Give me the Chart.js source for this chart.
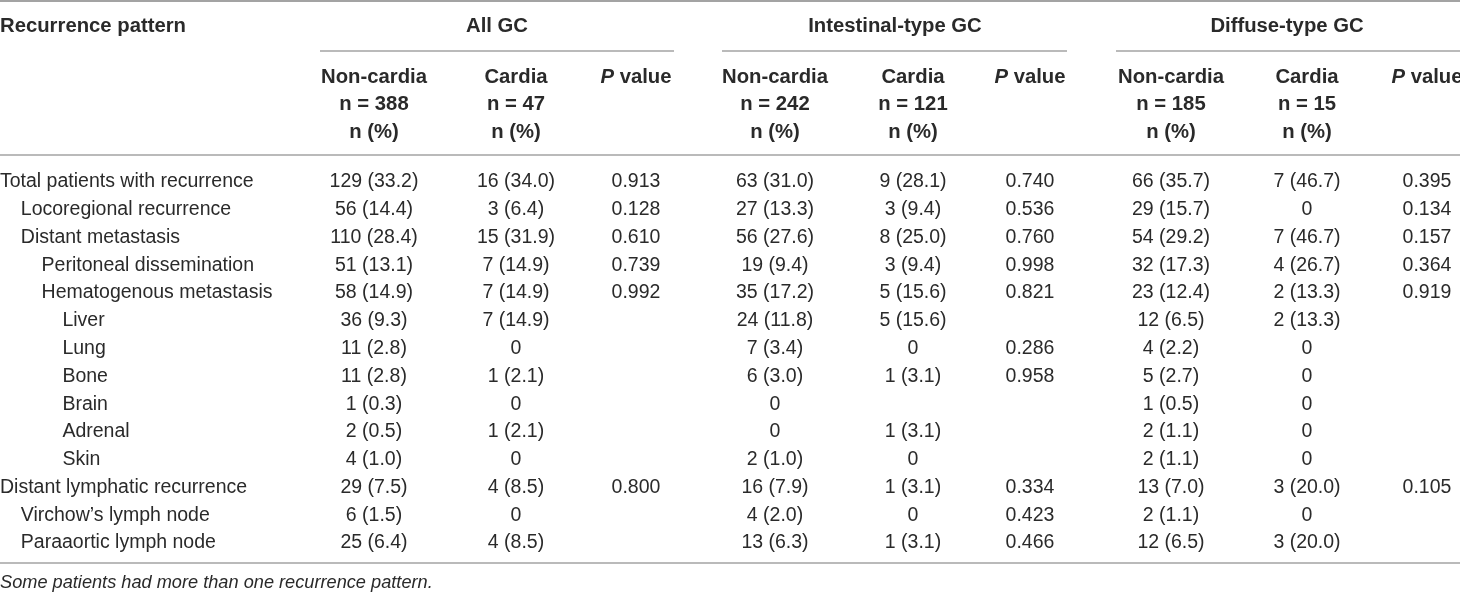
<!DOCTYPE html>
<html>
<head>
<meta charset="utf-8">
<script src="https://cdn.jsdelivr.net/npm/chart.js@4.4.1/dist/chart.umd.min.js"></script>
<style>
  html, body { margin: 0; padding: 0; background: #fff; }
  #wrap { width: 1460px; height: 593px; }
</style>
</head>
<body>
<div id="wrap"><canvas id="tbl"></canvas></div>
<script>
// Table content
const rowLabels = [
    'Total patients with recurrence', 'Locoregional recurrence', 'Distant metastasis',
    'Peritoneal dissemination', 'Hematogenous metastasis', 'Liver', 'Lung', 'Bone',
    'Brain', 'Adrenal', 'Skin', 'Distant lymphatic recurrence',
    'Virchow\u2019s lymph node', 'Paraaortic lymph node'
];
const rowLevels = [0, 1, 1, 2, 2, 3, 3, 3, 3, 3, 3, 0, 1, 1];

const groupTitles = ['All GC', 'Intestinal-type GC', 'Diffuse-type GC'];
const groupSizes = [['388', '47'], ['242', '121'], ['185', '15']];

const allNonCardia = ['129 (33.2)', '56 (14.4)', '110 (28.4)', '51 (13.1)', '58 (14.9)', '36 (9.3)', '11 (2.8)', '11 (2.8)', '1 (0.3)', '2 (0.5)', '4 (1.0)', '29 (7.5)', '6 (1.5)', '25 (6.4)'];
const allCardia = ['16 (34.0)', '3 (6.4)', '15 (31.9)', '7 (14.9)', '7 (14.9)', '7 (14.9)', '0', '1 (2.1)', '0', '1 (2.1)', '0', '4 (8.5)', '0', '4 (8.5)'];
const allP = ['0.913', '0.128', '0.610', '0.739', '0.992', '', '', '', '', '', '', '0.800', '', ''];

const intNonCardia = ['63 (31.0)', '27 (13.3)', '56 (27.6)', '19 (9.4)', '35 (17.2)', '24 (11.8)', '7 (3.4)', '6 (3.0)', '0', '0', '2 (1.0)', '16 (7.9)', '4 (2.0)', '13 (6.3)'];
const intCardia = ['9 (28.1)', '3 (9.4)', '8 (25.0)', '3 (9.4)', '5 (15.6)', '5 (15.6)', '0', '1 (3.1)', '', '1 (3.1)', '0', '1 (3.1)', '0', '1 (3.1)'];
const intP = ['0.740', '0.536', '0.760', '0.998', '0.821', '', '0.286', '0.958', '', '', '', '0.334', '0.423', '0.466'];

const diffNonCardia = ['66 (35.7)', '29 (15.7)', '54 (29.2)', '32 (17.3)', '23 (12.4)', '12 (6.5)', '4 (2.2)', '5 (2.7)', '1 (0.5)', '2 (1.1)', '2 (1.1)', '13 (7.0)', '2 (1.1)', '12 (6.5)'];
const diffCardia = ['7 (46.7)', '0', '7 (46.7)', '4 (26.7)', '2 (13.3)', '2 (13.3)', '0', '0', '0', '0', '0', '3 (20.0)', '0', '3 (20.0)'];
const diffP = ['0.395', '0.134', '0.157', '0.364', '0.919', '', '', '', '', '', '', '0.105', '', ''];

const footnote = 'Some patients had more than one recurrence pattern.';

// Layout (x in table pixels, y in row units)
const FONT = '"Liberation Sans", Arial, Helvetica, sans-serif';
const BODY_SIZE = 19.5;
const HEAD_SIZE = 20.3;
const NOTE_SIZE = 18.2;
const TEXT_COLOR = '#2a2a2a';
const RULE_COLOR = '#a3a3a3';
const colCenters = [374, 516, 636, 775, 913, 1030, 1171, 1307, 1427];
const groupCenters = [497, 895, 1287];
const groupRules = [[320, 674], [722, 1067], [1116, 1460]];
const indentStep = 20.8;
const tableWidth = 1460;
const rowPos = { top: -6.52, title: -5.62, groupRule: -4.72, sub: [-3.78, -2.81, -1.80], headRule: -0.97, bottom: 13.72, note: 14.44 };

const columns = [allNonCardia, allCardia, allP, intNonCardia, intCardia, intP, diffNonCardia, diffCardia, diffP];

// draws the text of every point at the position the scales gave it
const cellText = {
    id: 'cellText',
    afterDatasetsDraw(chart) {
        const ctx = chart.ctx;
        chart.data.datasets.forEach((ds, di) => {
            if (!ds.cells) return;
            const meta = chart.getDatasetMeta(di);
            meta.data.forEach((pt, i) => {
                let runs = ds.cells[i];
                if (!runs) return;
                if (typeof runs === 'string') runs = [{ t: runs }];
                const size = ds.size || BODY_SIZE;
                const fontOf = r => `${(r.italic || ds.italic) ? 'italic ' : ''}${ds.bold ? 'bold ' : ''}${size}px ${FONT}`;
                ctx.save();
                ctx.fillStyle = TEXT_COLOR;
                ctx.textBaseline = 'middle';
                ctx.textAlign = 'left';
                let total = 0;
                runs.forEach(r => { ctx.font = fontOf(r); total += ctx.measureText(r.t).width; });
                let x = ds.align === 'left' ? pt.x : pt.x - total / 2;
                runs.forEach(r => {
                    ctx.font = fontOf(r);
                    ctx.fillText(r.t, x, pt.y);
                    x += ctx.measureText(r.t).width;
                });
                ctx.restore();
            });
        });
    }
};

const datasets = [];

// horizontal rules
function rule(x0, x1, y, w) {
    datasets.push({
        data: [{ x: x0, y: y }, { x: x1, y: y }],
        showLine: true, borderColor: RULE_COLOR, borderWidth: w, pointRadius: 0
    });
}
rule(0, tableWidth, rowPos.top, 2);
groupRules.forEach(g => rule(g[0], g[1], rowPos.groupRule, 1.5));
rule(0, tableWidth, rowPos.headRule, 1.5);
rule(0, tableWidth, rowPos.bottom, 1.5);

// header texts
datasets.push({ data: [{ x: 0, y: rowPos.title }], cells: ['Recurrence pattern'], bold: true, size: HEAD_SIZE, align: 'left', pointRadius: 0 });

const groupPts = [], groupCells = [];
groupTitles.forEach((g, gi) => {
    groupPts.push({ x: groupCenters[gi], y: rowPos.title });
    groupCells.push(g);
    const c = gi * 3;
    [['Non-cardia', 'n = ' + groupSizes[gi][0], 'n (%)'], ['Cardia', 'n = ' + groupSizes[gi][1], 'n (%)']].forEach((lines, k) => {
        lines.forEach((t, li) => {
            groupPts.push({ x: colCenters[c + k], y: rowPos.sub[li] });
            groupCells.push(t);
        });
    });
    groupPts.push({ x: colCenters[c + 2], y: rowPos.sub[0] });
    groupCells.push([{ t: 'P', italic: true }, { t: ' value' }]);
});
datasets.push({ data: groupPts, cells: groupCells, bold: true, size: HEAD_SIZE, align: 'center', pointRadius: 0 });

// row labels
datasets.push({
    data: rowLabels.map((_, i) => ({ x: rowLevels[i] * indentStep, y: i })),
    cells: rowLabels, align: 'left', pointRadius: 0
});

// value columns
columns.forEach((col, c) => {
    datasets.push({
        data: col.map((_, i) => ({ x: colCenters[c], y: i })),
        cells: col, align: 'center', pointRadius: 0
    });
});

// footnote
datasets.push({ data: [{ x: 0, y: rowPos.note }], cells: [footnote], italic: true, size: NOTE_SIZE, align: 'left', pointRadius: 0 });

new Chart(document.getElementById('tbl'), {
    type: 'scatter',
    data: { datasets: datasets },
    options: {
        responsive: true,
        maintainAspectRatio: false,
        animation: false,
        events: [],
        layout: { padding: 0 },
        plugins: { legend: { display: false }, tooltip: { enabled: false } },
        scales: {
            x: { type: 'linear', min: 0, max: tableWidth, display: false },
            y: { type: 'linear', min: -6.554, max: 14.80, reverse: true, display: false }
        }
    },
    plugins: [cellText]
});
</script>
</body>
</html>
